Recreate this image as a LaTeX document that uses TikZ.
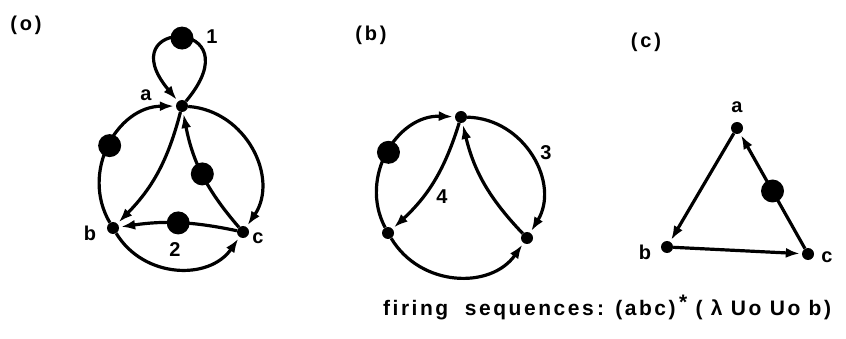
\documentclass[tikz,border=0pt]{standalone}
\usepackage{fontspec}
\setmainfont{Liberation Sans}
\usetikzlibrary{arrows.meta,positioning}
\tikzset{
  place/.style={circle, fill=black, inner sep=0pt, minimum size=12pt},
  token/.style={circle, fill=black, inner sep=0pt, minimum size=23pt},
  flow/.style={-{Latex[length=14pt,width=10pt]}, line width=3.2pt, shorten >=2pt},
  lbl/.style={font=\fontsize{20}{20}\selectfont\bfseries, inner sep=0pt},
  caption/.style={inner sep=0pt, font=\fontsize{20}{20}\selectfont\bfseries\addfontfeature{LetterSpace=14}}
}

\begin{document}
\begin{tikzpicture}[x=1pt, y=-1pt]
  \useasboundingbox (0,0) rectangle (846,339);

  % (a)
  \node[caption] (capa) at (26,25) {(o)};
  \node[place] (a1) at (182,106) {};
  \node[place] (b1) at (113,228) {};
  \node[place] (c1) at (243,232) {};
  \node[lbl] (a1l) at (146,95) {a};
  \node[lbl] (b1l) at (90,233) {b};
  \node[lbl] (c1l) at (258,238) {c};
  \node[lbl] (one) at (212,37) {1};
  \node[lbl] (two) at (175,250) {2};

  \draw[flow] (a1) to[out=50, in=130, min distance=110pt] node[token] (t1) {} (a1);
  \draw[flow] (b1) to[bend left=60, looseness=1.12] node[token] (t2) {} (a1);
  \draw[flow] (a1) to[bend left=60, looseness=1.12] (c1);
  \draw[flow] (b1) to[bend right=57, looseness=1.1] (c1);
  \draw[flow] (a1) to[bend left=15] (b1);
  \draw[flow] (c1) to[bend left=15] node[token] (t3) {} (a1);
  \draw[flow] (c1) to[bend right=10] node[token] (t4) {} (b1);

  % (b)
  \node[caption] (capb) at (371,35) {(b)};
  \node[place] (top2) at (461,117) {};
  \node[place] (left2) at (388,233) {};
  \node[place] (right2) at (527,238) {};
  \node[lbl] (three) at (546,153) {3};
  \node[lbl] (four) at (442,197) {4};

  \draw[flow] (left2) to[bend left=60, looseness=1.12] node[token] (t5) {} (top2);
  \draw[flow] (top2) to[bend left=60, looseness=1.12] (right2);
  \draw[flow] (left2) to[bend right=57, looseness=1.1] (right2);
  \draw[flow] (top2) to[bend left=15] (left2);
  \draw[flow] (right2) to[bend left=15] (top2);

  % (c)
  \node[caption] (capc) at (646,42) {(c)};
  \node[place] (a3) at (737,128) {};
  \node[place] (b3) at (667,247) {};
  \node[place] (c3) at (808,254) {};
  \node[lbl] (a3l) at (737,107) {a};
  \node[lbl] (b3l) at (645,252) {b};
  \node[lbl] (c3l) at (827,257) {c};

  \draw[flow] (a3) -- (b3);
  \draw[flow] (b3) -- (c3);
  \draw[flow] (c3) -- node[token] (t6) {} (a3);

  \node[anchor=west, inner sep=0pt, font=\fontsize{21}{21}\selectfont\bfseries\addfontfeature{LetterSpace=12}] (seq) at (383,308)
    {firing \ sequences\,: (abc)\,\raisebox{6pt}{*}\ ( λ Uo Uo b)};
\end{tikzpicture}
\end{document}
